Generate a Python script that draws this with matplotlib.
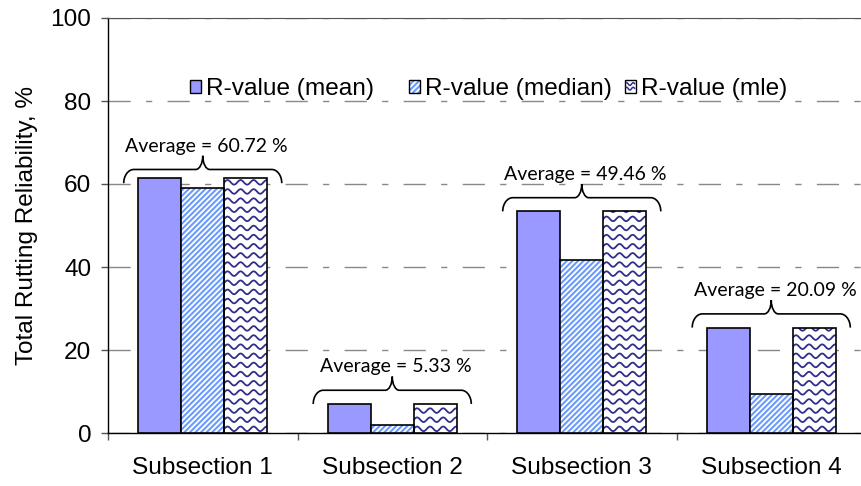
import numpy as np
import matplotlib
matplotlib.use("Agg")
import matplotlib.pyplot as plt
import matplotlib as mpl
from matplotlib.path import Path
from matplotlib.patches import PathPatch, Rectangle, Patch
from matplotlib.legend_handler import HandlerBase
from matplotlib.legend import Legend
from matplotlib.lines import Line2D

mpl.rcParams['font.family'] = ['Liberation Sans', 'DejaVu Sans']
mpl.rcParams['hatch.linewidth'] = 1.5

# data
sections = ['Subsection 1', 'Subsection 2', 'Subsection 3', 'Subsection 4']
r_mean = [61.5, 7.0, 53.4, 25.4]
r_median = [59.15, 2.0, 41.58, 9.47]
r_mle = [61.5, 7.0, 53.4, 25.4]
averages = [60.72, 5.33, 49.46, 20.09]
brace_shift = [-1.3, 0, 0, 0]
series_names = ['R-value (mean)', 'R-value (median)', 'R-value (mle)']

col_mean = '#9999FF'
col_median = '#6A9BFF'
col_mle = '#2E2E8C'
FS = 17.6

fig = plt.figure(figsize=(8.61, 4.86), dpi=100)
ax = fig.add_axes([108/861, 53/486, 758/861, 415/486])

x = np.arange(len(sections))
bw = 0.227

ax.bar(x - bw, r_mean, bw, color=col_mean, edgecolor='black', lw=1.2, zorder=3)
ax.bar(x, r_median, bw, facecolor='white', edgecolor=col_median, hatch='//////', lw=0, zorder=3)
ax.bar(x, r_median, bw, facecolor='none', edgecolor='black', lw=1.2, zorder=4)
mle_bars = ax.bar(x + bw, r_mle, bw, facecolor='white', lw=0, zorder=3)
ax.bar(x + bw, r_mle, bw, facecolor='none', edgecolor='black', lw=1.2, zorder=4)


# wavy fill for the mle bars
def wave_fill(rect):
    x0, y0 = rect.get_x(), rect.get_y()
    w, h = rect.get_width(), rect.get_height()
    xs = np.linspace(x0, x0 + w, 120)
    period = 0.069
    amp = 0.55
    step = 2.2
    yy = y0 + 1.0
    while yy < y0 + h + amp:
        ys = yy + amp * np.sin(2 * np.pi * (xs - x0) / period)
        ln, = ax.plot(xs, ys, color=col_mle, lw=1.3, zorder=3.5)
        ln.set_clip_path(rect)
        yy += step


for r in mle_bars:
    wave_fill(r)


# curly braces with the averages
def brace(xc, y0, label, half=0.417, rx_end=0.053, rx_mid=0.037, h1=3.3, h2=6.6):
    k = 0.5523
    y1 = y0 + h1
    y2 = y0 + h2
    verts, codes = [], []
    for s in (-1, 1):
        xe = xc + s * half
        v = [(xe, y0),
             (xe, y0 + k * h1), (xe - s * rx_end * (1 - k), y1), (xe - s * rx_end, y1),
             (xc + s * rx_mid, y1),
             (xc + s * rx_mid * (1 - k), y1), (xc, y2 - k * (h2 - h1)), (xc, y2)]
        c = [Path.MOVETO, Path.CURVE4, Path.CURVE4, Path.CURVE4, Path.LINETO,
             Path.CURVE4, Path.CURVE4, Path.CURVE4]
        verts += v
        codes += c
    ax.add_patch(PathPatch(Path(verts, codes), facecolor='none', edgecolor='black',
                           lw=1.2, zorder=5, clip_on=False))
    ax.text(xc + 0.02, y2 + 1.0, label, ha='center', va='baseline', fontsize=14,
            family=['Lato', 'DejaVu Sans'], zorder=6)


for i in range(len(sections)):
    top = max(r_mean[i], r_median[i], r_mle[i]) + brace_shift[i]
    brace(x[i], top, 'Average = %.2f %%' % averages[i])

ax.set_xlim(-0.5, len(sections) - 0.5)
ax.set_ylim(0, 100)
ax.set_yticks(np.arange(0, 101, 20))
ax.set_xticks(x)
ax.set_xticklabels(sections, fontsize=FS)
ax.set_xticks(np.arange(-0.5, len(sections), 1.0), minor=True)
ax.tick_params(axis='x', which='major', length=0, pad=17)
ax.tick_params(axis='x', which='minor', length=5, width=1, direction='out', color='#555555')
ax.tick_params(axis='y', length=5, width=1, direction='out', labelsize=FS, pad=7, color='#555555')
ax.set_ylabel('Total Rutting Reliability, %', fontsize=FS, labelpad=9)

ax.grid(axis='y', color='#888888', lw=1, linestyle=(0, (16, 11, 4.5, 11)))
ax.set_axisbelow(True)
ax.spines['right'].set_visible(False)
ax.spines['top'].set_color('#555555')
ax.spines['left'].set_linewidth(1)
ax.spines['bottom'].set_linewidth(1)


class WaveHandler(HandlerBase):
    def create_artists(self, legend, orig_handle, xdescent, ydescent, width, height, fontsize, trans):
        x0, y0 = -xdescent, -ydescent
        rect = Rectangle((x0, y0), width, height, facecolor='white', edgecolor='black',
                         lw=1, transform=trans)
        xs = np.linspace(x0 + 1, x0 + width - 1, 20)
        arts = [rect]
        for f in (0.35, 0.7):
            ys = y0 + height * f + 1.0 * np.sin(2 * np.pi * (xs - x0) / (width * 0.6))
            arts.append(Line2D(xs, ys, color=col_mle, lw=1.1, transform=trans))
        return arts


class MedianHandler(HandlerBase):
    def create_artists(self, legend, orig_handle, xdescent, ydescent, width, height, fontsize, trans):
        x0, y0 = -xdescent, -ydescent
        r1 = Rectangle((x0, y0), width, height, facecolor='white', edgecolor=col_median,
                       hatch='//////', lw=0, transform=trans)
        r2 = Rectangle((x0, y0), width, height, facecolor='none', edgecolor='black',
                       lw=1, transform=trans)
        return [r1, r2]


h_mean = Patch(facecolor=col_mean, edgecolor='black', lw=1)
h_median = Patch(facecolor='white', edgecolor=col_median)
h_mle = Patch(facecolor='white', edgecolor='black')
handles = [h_mean, h_median, h_mle]
hmap = {h_mle: WaveHandler(), h_median: MedianHandler()}

# evenly spaced legend entries, like the original
leg_x = [0.108, 0.397, 0.682]
for h, name, lx in zip(handles, series_names, leg_x):
    leg = Legend(ax, [h], [name], loc='center left', bbox_to_anchor=(lx, 0.828),
                 frameon=False, fontsize=FS, borderpad=0, borderaxespad=0,
                 handlelength=0.45, handleheight=0.45, handletextpad=0.2,
                 handler_map=hmap)
    ax.add_artist(leg)

fig.savefig('out.png', dpi=100)
